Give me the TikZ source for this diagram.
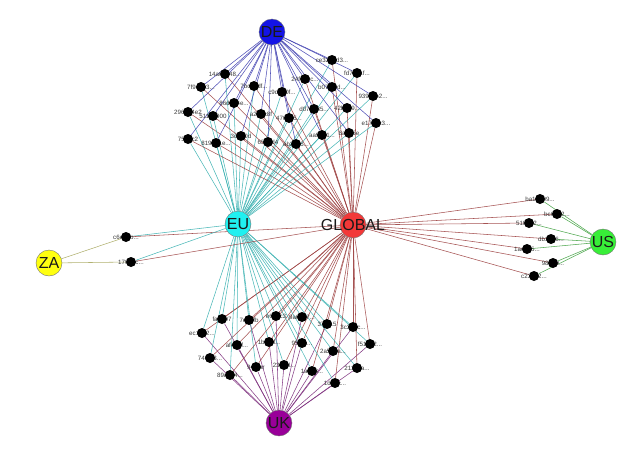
\documentclass[tikz,border=0pt]{standalone}
\usepackage{fontspec}
\setmainfont{Liberation Sans}
\newcommand{\trn}{...}
\pgfdeclarelayer{edges}
\pgfsetlayers{edges,main}
\definecolor{deC}{HTML}{1414E6}
\definecolor{euC}{HTML}{20F0F0}
\definecolor{glC}{HTML}{F23838}
\definecolor{zaC}{HTML}{FFFF10}
\definecolor{usC}{HTML}{38EE38}
\definecolor{ukC}{HTML}{990099}
\definecolor{deE}{HTML}{4040B0}
\definecolor{euE}{HTML}{38B0B0}
\definecolor{glE}{HTML}{9C4040}
\definecolor{zaE}{HTML}{A8A860}
\definecolor{usE}{HTML}{40A040}
\definecolor{ukE}{HTML}{7A2A7A}
\begin{document}
\begin{tikzpicture}[x=1pt,y=-1pt,
  hub/.style={circle,draw=black!55,line width=0.4pt,minimum size=26pt,inner sep=0pt},
  hubtxt/.style={inner sep=0pt,text=black!90,font=\fontsize{16}{16}\selectfont},
  dot/.style={circle,fill=black,minimum size=10pt,inner sep=0pt},
  lbl/.style={inner sep=0pt,text=black!78,font=\fontsize{6.2}{6.5}\selectfont},
  edge/.style={line width=0.55pt,opacity=0.9}]
\useasboundingbox (0,0) rectangle (641,459);
% hubs
\node[hub,fill=deC] (DE) at (272,32) {};
\node[hub,fill=euC] (EU) at (238,224) {};
\node[hub,fill=glC] (GL) at (353,225) {};
\node[hub,fill=zaC] (ZA) at (49,263) {};
\node[hub,fill=usC] (US) at (603,242) {};
\node[hub,fill=ukC] (UK) at (279,423) {};
\node[hubtxt] (DEt) at (DE) {DE};
\node[hubtxt] (EUt) at (EU) {EU};
\node[hubtxt] (GLt) at (GL) {GLOBAL};
\node[hubtxt] (ZAt) at (ZA) {ZA};
\node[hubtxt] (USt) at (US) {US};
\node[hubtxt] (UKt) at (UK) {UK};
% top cluster
\foreach \n/\x/\y/\t in {
 t1/332/60/ce32a0d3\trn,t2/357/73/fd7c91f\trn,t3/225/74/14a0c648\trn,t4/201/87/7f9d0e3\trn,
 t5/254/86/7bc3adf\trn,t6/305/79/24f7e2c\trn,t7/332/87/b07f17d\trn,t8/282/92/c9db00f\trn,
 t9/373/96/939c5b2\trn,t10/234/103/86d6b4e\trn,t11/188/112/2966a4e2,t12/213/116/5114b900,
 t13/314/109/d07b985\trn,t14/347/108/42b2e9\trn,t15/261/114/a2b0c8f,t16/289/118/476a05\trn,
 t17/376/123/e17c8c3\trn,t18/188/139/7580c2,t19/216/143/8190e1e\trn,t20/241/136/3d5a0d,
 t21/268/142/6531d4,t22/296/144/ab2e55\trn,t23/322/135/aa9d21\trn,t24/349/133/8a6b5e}
 {\node[lbl] (\n l) at (\x,\y) {\t};
  \node[dot] (\n) at (\x,\y) {};
  \begin{pgfonlayer}{edges}
   \draw[edge,deE] (\n) -- (DE);
   \draw[edge,euE] (\n) -- (EU);
   \draw[edge,glE] (\n) -- (GL);
  \end{pgfonlayer}}
% bottom cluster
\foreach \n/\x/\y/\t in {
 b1/222/319/fa6b07,b2/249/320/7e22fb,b3/276/316/e6a4c3,b4/302/317/9a6b47\trn,
 b5/327/324/37f415,b6/353/327/3c3a5c\trn,b7/202/333/ec1a92\trn,b8/237/345/af4d7f\trn,
 b9/269/342/1b5ed\trn,b10/302/343/95f5a\trn,b11/370/344/f51d82\trn,b12/333/351/2a5b5a\trn,
 b13/210/358/74f393\trn,b14/256/367/94f1ar,b15/284/365/23b9d\trn,b16/312/371/1ad83\trn,
 b17/357/368/211c6a\trn,b18/230/375/89a804\trn,b19/335/383/1d8ac\trn}
 {\node[lbl] (\n l) at (\x,\y) {\t};
  \node[dot] (\n) at (\x,\y) {};
  \begin{pgfonlayer}{edges}
   \draw[edge,ukE] (\n) -- (UK);
   \draw[edge,euE] (\n) -- (EU);
   \draw[edge,glE] (\n) -- (GL);
  \end{pgfonlayer}}
% ZA cluster
\foreach \n/\x/\y/\t in {z1/126/237/c6e8ab\trn,z2/131/262/1709dc\trn}
 {\node[lbl] (\n l) at (\x,\y) {\t};
  \node[dot] (\n) at (\x,\y) {};
  \begin{pgfonlayer}{edges}
   \draw[edge,zaE] (\n) -- (ZA);
   \draw[edge,euE] (\n) -- (EU);
   \draw[edge,glE] (\n) -- (GL);
  \end{pgfonlayer}}
% US cluster
\foreach \n/\x/\y/\t in {u1/540/199/ba14e09\trn,u2/557/214/bc6e92\trn,u3/529/223/510d02\trn,
 u4/551/239/db1296\trn,u5/527/249/1ae5c5\trn,u6/553/263/98b00\trn,u7/534/276/c23d02\trn}
 {\node[lbl] (\n l) at (\x,\y) {\t};
  \node[dot] (\n) at (\x,\y) {};
  \begin{pgfonlayer}{edges}
   \draw[edge,usE] (\n) -- (US);
   \draw[edge,glE] (\n) -- (GL);
  \end{pgfonlayer}}
\end{tikzpicture}
\end{document}
